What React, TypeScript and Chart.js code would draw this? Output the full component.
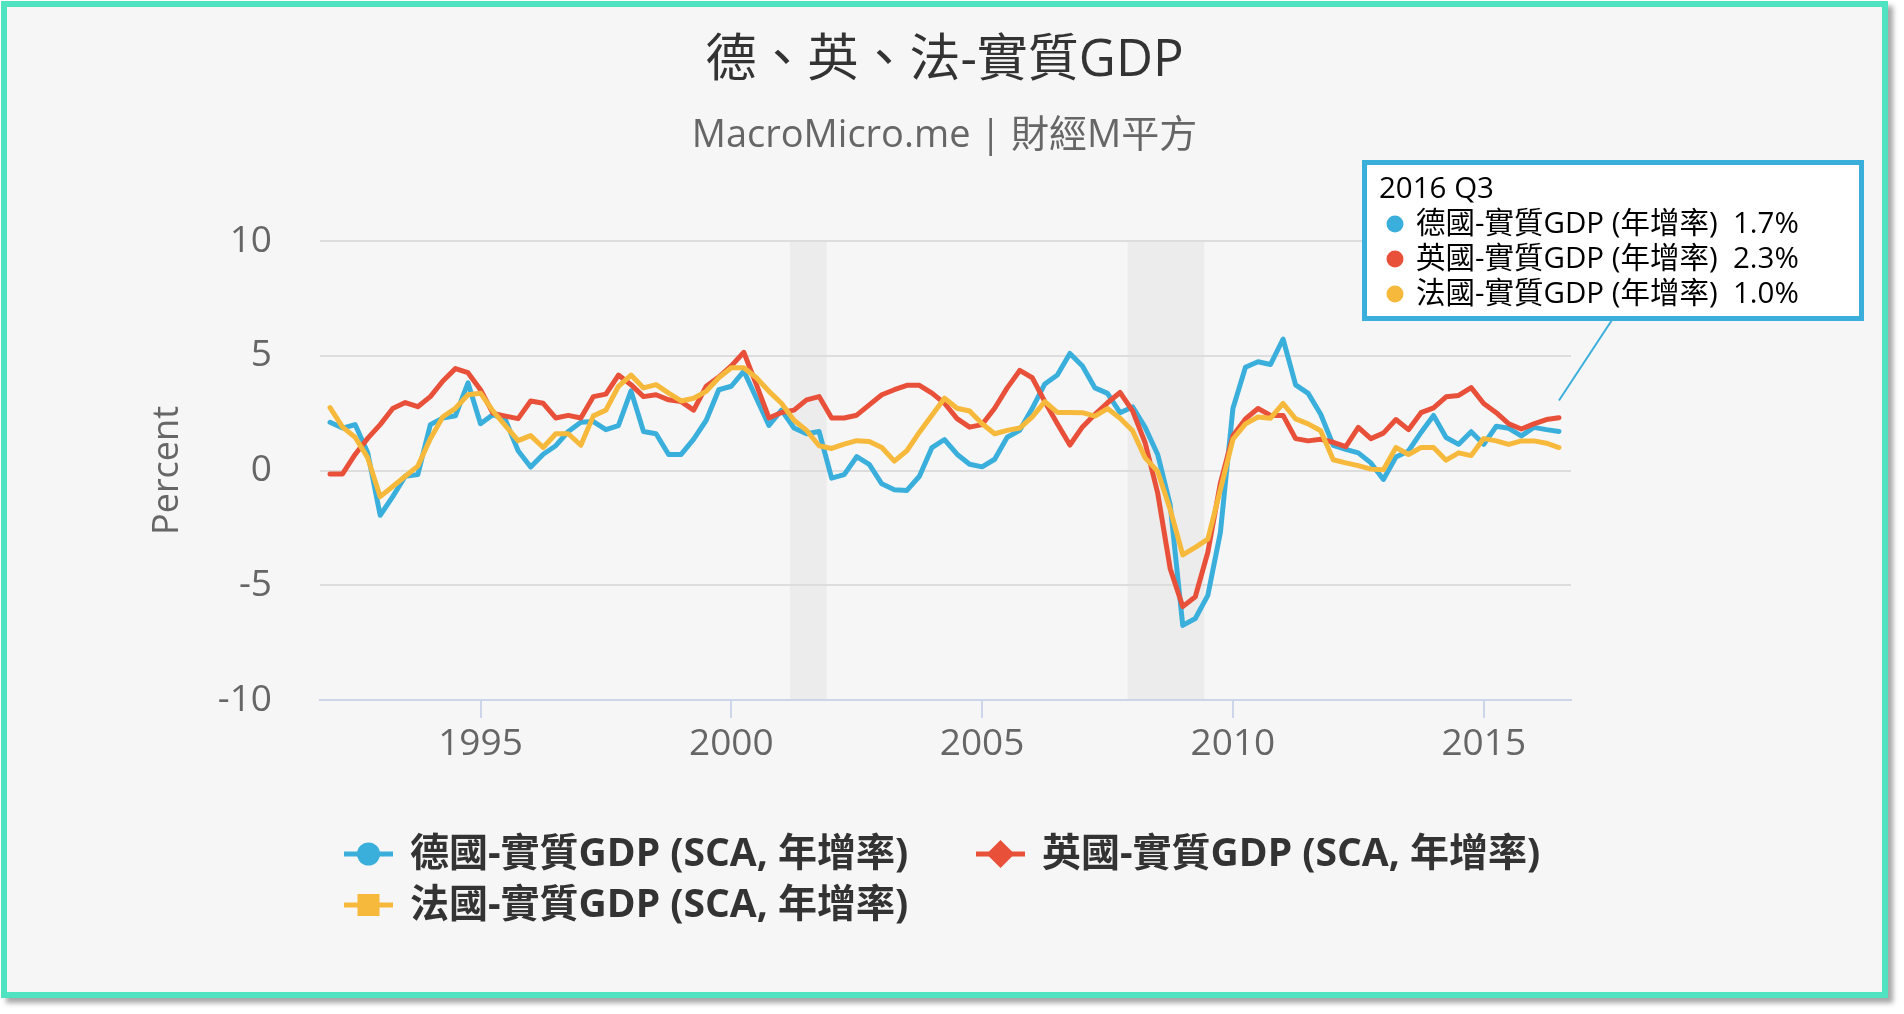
import { useEffect, useRef } from "react";
import { Chart, registerables } from "chart.js";

Chart.register(...registerables);

const FONT = '"Open Sans", "Noto Sans CJK TC", sans-serif';
Chart.defaults.font.family = FONT;

const TITLE = "德、英、法-實質GDP";
const SUBTITLE = "MacroMicro.me | 財經M平方";

const germany = [
  2.1, 1.85, 2.0, 0.78, -1.95, -1.14, -0.25, -0.18, 2.0, 2.29,
  2.38, 3.82, 2.04, 2.44, 2.19, 0.86, 0.15, 0.71, 1.08, 1.7,
  2.1, 2.13, 1.78, 1.96, 3.47, 1.7, 1.6, 0.7, 0.7, 1.37,
  2.19, 3.52, 3.67, 4.33, 3.15, 1.96, 2.63, 1.85, 1.6, 1.7,
  -0.33, -0.18, 0.6, 0.27, -0.58, -0.84, -0.87, -0.25, 1.0, 1.35,
  0.71, 0.27, 0.16, 0.49, 1.45, 1.75, 2.71, 3.77, 4.16, 5.1,
  4.55, 3.6, 3.36, 2.52, 2.77, 1.88, 0.7, -1.5, -6.75, -6.45,
  -5.44, -2.7, 2.7, 4.5, 4.74, 4.62, 5.73, 3.73, 3.36, 2.45,
  1.1, 0.92, 0.77, 0.33, -0.39, 0.59, 0.85, 1.66, 2.4, 1.44,
  1.14, 1.69, 1.14, 1.93, 1.84, 1.51, 1.88, 1.78, 1.7,
];

const uk = [
  -0.15, -0.15, 0.7, 1.4, 2.0, 2.7, 2.96, 2.78, 3.22, 3.9,
  4.44, 4.26, 3.52, 2.49, 2.37, 2.26, 3.03, 2.93, 2.29, 2.4,
  2.29, 3.22, 3.33, 4.16, 3.74, 3.22, 3.3, 3.08, 3.0, 2.63,
  3.67, 4.07, 4.56, 5.15, 3.74, 2.29, 2.53, 2.63, 3.08, 3.22,
  2.29, 2.29, 2.41, 2.86, 3.3, 3.52, 3.71, 3.71, 3.37, 2.93,
  2.26, 1.89, 2.0, 2.71, 3.6, 4.36, 4.04, 3.0, 2.04, 1.11,
  1.9, 2.45, 2.95, 3.4, 2.6, 1.21, -0.98, -4.28, -5.93, -5.5,
  -3.56, -0.55, 1.51, 2.25, 2.7, 2.4, 2.4, 1.39, 1.29, 1.36,
  1.23, 1.04, 1.88, 1.39, 1.63, 2.22, 1.78, 2.52, 2.73, 3.21,
  3.27, 3.61, 2.92, 2.52, 2.03, 1.81, 2.03, 2.22, 2.3,
];

const france = [
  2.74, 1.89, 1.45, 0.56, -1.14, -0.7, -0.25, 0.19, 1.38, 2.34,
  2.71, 3.3, 3.37, 2.59, 1.94, 1.3, 1.52, 1.0, 1.6, 1.6,
  1.1, 2.38, 2.63, 3.67, 4.16, 3.6, 3.74, 3.37, 3.03, 3.15,
  3.45, 4.04, 4.48, 4.48, 4.04, 3.45, 2.93, 2.19, 1.75, 1.08,
  0.96, 1.15, 1.3, 1.26, 1.0, 0.41, 0.86, 1.67, 2.41, 3.15,
  2.71, 2.59, 2.04, 1.6, 1.75, 1.85, 2.34, 3.0, 2.53, 2.53,
  2.52, 2.37, 2.7, 2.28, 1.73, 0.55, -0.04, -1.7, -3.68, -3.35,
  -2.99, -0.83, 1.36, 2.03, 2.33, 2.28, 2.92, 2.25, 2.03, 1.73,
  0.47, 0.33, 0.21, 0.06, 0.03, 1.0, 0.7, 1.0, 1.0, 0.45,
  0.77, 0.65, 1.39, 1.29, 1.14, 1.29, 1.29, 1.19, 1.0,
];

// "1992 Q1" ... "2016 Q3"
const quarters = germany.map(
  (_, i) => `${1992 + Math.floor(i / 4)} Q${(i % 4) + 1}`,
);

const xTicks = [1995, 2000, 2005, 2010, 2015];
const yTicks = [-10, -5, 0, 5, 10];

// shaded recession periods (decimal years)
const recessions = [
  [2001.17, 2001.9],
  [2007.9, 2009.43],
];

const seriesValues = [germany, uk, france];
const legendNames = [
  "德國-實質GDP (SCA, 年增率)",
  "英國-實質GDP (SCA, 年增率)",
  "法國-實質GDP (SCA, 年增率)",
];
const tooltipNames = [
  "德國-實質GDP (年增率)",
  "英國-實質GDP (年增率)",
  "法國-實質GDP (年增率)",
];
const colors = ["#3aafdc", "#e8503a", "#f6b93b"];
const markers = ["circle", "diamond", "square"];

const quarterToYear = (q: string) => {
  const [y, qq] = q.split(" Q");
  return Number(y) + (Number(qq) - 1) / 4;
};

const drawMarker = (
  ctx: CanvasRenderingContext2D,
  kind: string,
  cx: number,
  cy: number,
) => {
  ctx.beginPath();
  if (kind === "circle") {
    ctx.arc(cx, cy, 11.5, 0, Math.PI * 2);
  } else if (kind === "diamond") {
    ctx.moveTo(cx, cy - 14);
    ctx.lineTo(cx + 14, cy);
    ctx.lineTo(cx, cy + 14);
    ctx.lineTo(cx - 14, cy);
    ctx.closePath();
  } else {
    ctx.rect(cx - 11, cy - 11, 22, 22);
  }
  ctx.fill();
};

// eslint-disable-next-line @typescript-eslint/no-explicit-any
const decorPlugin: any = {
  id: "decor",
  // eslint-disable-next-line @typescript-eslint/no-explicit-any
  beforeDraw(chart: any) {
    const { ctx, chartArea, scales } = chart;
    ctx.save();
    // recession bands
    ctx.fillStyle = "#ececec";
    for (const [a, b] of recessions) {
      const x1 = scales.x.getPixelForValue(a);
      const x2 = scales.x.getPixelForValue(b);
      ctx.fillRect(x1, chartArea.top, x2 - x1, chartArea.bottom - chartArea.top);
    }
    // title + subtitle
    ctx.textAlign = "center";
    ctx.textBaseline = "middle";
    ctx.fillStyle = "#333333";
    ctx.font = `51px ${FONT}`;
    ctx.fillText(TITLE, chart.width / 2, 54);
    ctx.fillStyle = "#666666";
    ctx.font = `38px ${FONT}`;
    ctx.fillText(SUBTITLE, chart.width / 2, 129);
    ctx.restore();
  },
  // eslint-disable-next-line @typescript-eslint/no-explicit-any
  afterDraw(chart: any) {
    const { ctx, scales } = chart;
    ctx.save();

    // legend (Highcharts style, two columns)
    const legendPos = [
      [337, 847],
      [969, 847],
      [337, 898],
    ];
    ctx.textAlign = "left";
    ctx.textBaseline = "middle";
    ctx.font = `bold 39px ${FONT}`;
    legendNames.forEach((name, i) => {
      const [lx, ly] = legendPos[i];
      ctx.strokeStyle = colors[i];
      ctx.fillStyle = colors[i];
      ctx.lineWidth = 5;
      ctx.beginPath();
      ctx.moveTo(lx, ly);
      ctx.lineTo(lx + 49, ly);
      ctx.stroke();
      drawMarker(ctx, markers[i], lx + 24.5, ly);
      ctx.fillStyle = "#333333";
      ctx.fillText(name, lx + 66, ly + 1);
    });

    // tooltip for the last quarter
    const last = quarters.length - 1;
    const px = scales.x.getPixelForValue(quarterToYear(quarters[last]));
    const py = scales.y.getPixelForValue(3.05);
    const bx = 1357.5;
    const by = 155.5;
    const bw = 497;
    const bh = 156;
    ctx.strokeStyle = "#3aafdc";
    ctx.lineWidth = 2;
    ctx.beginPath();
    ctx.moveTo(px + 54, by + bh);
    ctx.lineTo(px, py);
    ctx.stroke();
    ctx.fillStyle = "#ffffff";
    ctx.fillRect(bx, by, bw, bh);
    ctx.lineWidth = 5;
    ctx.strokeRect(bx, by, bw, bh);

    ctx.font = `29.5px ${FONT}`;
    ctx.fillStyle = "#000000";
    ctx.fillText(quarters[last], 1372, 183);
    tooltipNames.forEach((name, i) => {
      const ry = 217 + i * 35;
      ctx.fillStyle = colors[i];
      ctx.beginPath();
      ctx.arc(1388, ry, 8.5, 0, Math.PI * 2);
      ctx.fill();
      ctx.fillStyle = "#000000";
      ctx.fillText(name, 1409, ry + 1);
      ctx.fillText(`${seriesValues[i][last].toFixed(1)}%`, 1726, ry + 1);
    });
    ctx.restore();
  },
};

export default function App() {
  const canvasRef = useRef<HTMLCanvasElement>(null);

  useEffect(() => {
    document.body.style.margin = "0";
    if (!canvasRef.current) return;

    const datasets = seriesValues.map((vals, i) => ({
      label: legendNames[i],
      data: vals.map((v, j) => ({ x: quarterToYear(quarters[j]), y: v })),
      borderColor: colors[i],
      backgroundColor: colors[i],
      borderWidth: 5,
      borderJoinStyle: "round" as const,
      borderCapStyle: "round" as const,
      pointRadius: 0,
      tension: 0,
      // France on top, Germany at the bottom (as in the original)
      order: 2 - i,
    }));

    const chart = new Chart(canvasRef.current, {
      type: "line",
      data: { datasets },
      options: {
        animation: false,
        responsive: false,
        events: [],
        layout: { padding: { left: 0, top: 234, right: 311, bottom: 192 } },
        plugins: {
          legend: { display: false },
          tooltip: { enabled: false },
        },
        scales: {
          x: {
            type: "linear",
            min: 1991.8,
            max: 2016.74,
            afterBuildTicks: (scale) => {
              scale.ticks = xTicks.map((v) => ({ value: v }));
            },
            afterFit: (scale) => {
              scale.height = 100;
            },
            ticks: {
              color: "#666666",
              font: { size: 37 },
              padding: 4,
              callback: (v) => String(v),
            },
            grid: {
              drawOnChartArea: false,
              drawTicks: true,
              tickLength: 18,
              color: "#ccd6eb",
              lineWidth: 2,
            },
            border: { display: true, color: "#ccd6eb", width: 2 },
          },
          y: {
            min: -10,
            max: 10,
            afterBuildTicks: (scale) => {
              scale.ticks = yTicks.map((v) => ({ value: v }));
            },
            afterFit: (scale) => {
              scale.width = 313;
            },
            ticks: {
              color: "#666666",
              font: { size: 37 },
              padding: 48,
            },
            grid: {
              drawTicks: false,
              color: (c) => (c.tick && c.tick.value === -10 ? "rgba(0,0,0,0)" : "#dddddd"),
              lineWidth: 2,
            },
            border: { display: false },
            title: {
              display: true,
              text: "Percent",
              color: "#666666",
              font: { size: 36 },
              padding: { top: 139, bottom: 0 },
            },
          },
        },
      },
      plugins: [decorPlugin],
    });

    return () => {
      chart.destroy();
    };
  }, []);

  return (
    <div
      style={{
        position: "absolute",
        left: 1,
        top: 1,
        width: 1887,
        height: 997,
        boxSizing: "border-box",
        border: "6px solid #50e3c2",
        background: "#f6f6f6",
        boxShadow: "5px 5px 5px rgba(0,0,0,0.35)",
      }}
    >
      <canvas ref={canvasRef} width={1875} height={985} style={{ display: "block" }} />
    </div>
  );
}
